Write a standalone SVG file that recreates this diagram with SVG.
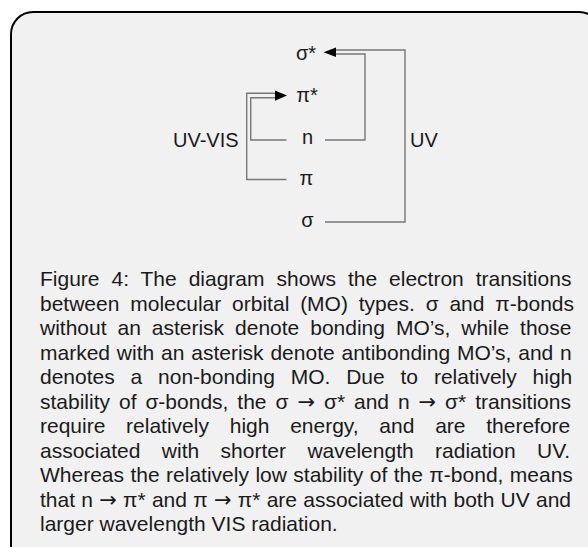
<svg xmlns="http://www.w3.org/2000/svg" width="588" height="547" viewBox="0 0 588 547">
<style>
.lbl{font-family:"Liberation Sans",Arial,sans-serif;font-size:20px;fill:#1a1a1a;text-anchor:middle}
.side{font-family:"Liberation Sans",Arial,sans-serif;font-size:20px;fill:#1a1a1a}
.cap{font-family:"Liberation Sans",Arial,sans-serif;font-size:21px;fill:#1a1a1a}
.ar{font-family:"DejaVu Sans",sans-serif}
.ln{fill:none;stroke:#777;stroke-width:1.4}
.ah{fill:#000}
</style>
<rect x="11" y="12" width="590" height="560" rx="22" ry="22" fill="#f1f1f1" stroke="#000" stroke-width="2"/>
<g id="sigma-star"><text class="lbl" x="306" y="60">σ*</text></g>
<g id="pi-star"><text class="lbl" x="307" y="102">π*</text></g>
<g id="n"><text class="lbl" x="307.5" y="144">n</text></g>
<g id="pi"><text class="lbl" x="306.5" y="185">π</text></g>
<g id="sigma"><text class="lbl" x="307.5" y="227">σ</text></g>
<g id="label-uvvis"><text class="side" x="173" y="147">UV-VIS</text></g>
<g id="label-uv"><text class="side" x="410" y="147">UV</text></g>
<g id="connectors">
<polyline class="ln" points="325,222 405,222 405,50 335,50"/>
<polyline class="ln" points="325,140 365,140 365,54 335,54"/>
<polygon class="ah" points="323.5,52.3 336,47.5 336,57"/>
<polyline class="ln" points="286.5,179.5 246.7,179.5 246.7,93.3 276,93.3"/>
<polyline class="ln" points="286.5,140 250.7,140 250.7,97.7 276,97.7"/>
<polygon class="ah" points="287,95.6 275,90.5 275,100.8"/>
</g>
<g id="caption">
<text class="cap" x="40" y="286" word-spacing="6.1">Figure 4: The diagram shows the electron transitions</text>
<text class="cap" x="40" y="310.5" word-spacing="5.0">between molecular orbital (MO) types. σ and π-bonds</text>
<text class="cap" x="40" y="335" word-spacing="5.1">without an asterisk denote bonding MO’s, while those</text>
<text class="cap" x="40" y="359.5" word-spacing="1.0">marked with an asterisk denote antibonding MO’s, and n</text>
<text class="cap" x="40" y="384" word-spacing="10.0">denotes a non-bonding MO. Due to relatively high</text>
<text class="cap" x="40" y="408.5" word-spacing="3.1">stability of σ-bonds, the σ <tspan class="ar">→</tspan> σ* and n <tspan class="ar">→</tspan> σ* transitions</text>
<text class="cap" x="40" y="433" word-spacing="14.9">require relatively high energy, and are therefore</text>
<text class="cap" x="40" y="457.5" word-spacing="15.6">associated with shorter wavelength radiation UV.</text>
<text class="cap" x="40" y="482" word-spacing="0.6">Whereas the relatively low stability of the π-bond, means</text>
<text class="cap" x="40" y="506.5" word-spacing="0.4">that n <tspan class="ar">→</tspan> π* and π <tspan class="ar">→</tspan> π* are associated with both UV and</text>
<text class="cap" x="40" y="531">larger wavelength VIS radiation.</text>
</g>
</svg>
